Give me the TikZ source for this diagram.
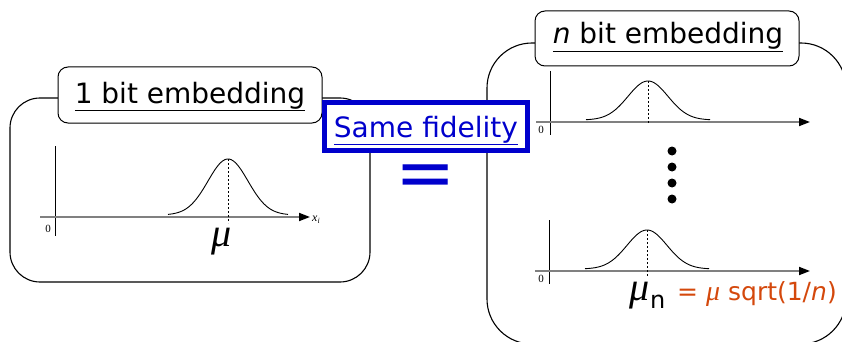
\documentclass[tikz,border=0pt]{standalone}
\usepackage{fontspec}
\setmainfont{DejaVu Sans}
\newfontfamily\timesfont{Liberation Serif}
\usetikzlibrary{arrows.meta}
\definecolor{fidblue}{RGB}{0,0,204}
\definecolor{formred}{RGB}{212,72,12}
\definecolor{axisgray}{RGB}{128,128,128}

\begin{document}
\begin{tikzpicture}[x=1pt,y=-1pt,
  frame/.style={draw=black,line width=1.1pt,rounded corners=#1},
  titlebox/.style={draw=black,fill=white,line width=1pt,rounded corners=10pt},
  title/.style={font=\fontsize{28}{32}\selectfont,anchor=base,inner sep=0pt},
  vaxis/.style={draw=black,line width=0.9pt},
  haxis/.style={draw=axisgray,line width=1.8pt,-{Triangle[length=11pt,width=8pt,color=black]}},
  bell/.style={draw=black,line width=0.9pt},
  peakline/.style={draw=black,dash pattern=on 2pt off 2pt,line width=0.7pt},
  zero/.style={font=\timesfont\fontsize{11}{11}\selectfont,inner sep=0pt},
  greek/.style={font=\timesfont\itshape\fontsize{40}{40}\selectfont,inner sep=0pt},
  bigdot/.style={circle,fill=black,draw=none,inner sep=0pt,minimum size=9pt}
]
\useasboundingbox (0,0) rectangle (842,342);
\clip (0,0) rectangle (842,342);

% outer frames
\draw[frame=30pt] (10,98) rectangle (370,282);
\draw[frame=45pt] (487,43) rectangle (846,344);

% title tabs
\draw[titlebox] (58,67) rectangle (322,123);
\node[title] (t1) at (190,103) {\underline{1 bit embedding}};
\draw[titlebox] (535,11) rectangle (799,66);
\node[title] (tn) at (668,44) {\underline{\textit{n} bit embedding}};

% single-bit distribution
\draw[vaxis] (55,146) -- (55,236);
\draw[haxis] (40,217) -- (310,217);
\draw[bell] plot[domain=-60:60,samples=81,smooth] ({228+\x},{215-56*exp(-(\x*\x)/800)});
\draw[peakline] (228,159) -- (228,223);
\node[zero] (z1) at (48,229) {0};
\node[inner sep=0pt,anchor=base west] (xi) at (312,221)
  {\timesfont\fontsize{12}{12}\selectfont\itshape x\raisebox{-2.5pt}{\fontsize{8}{8}\selectfont i}};
\node[greek,anchor=base] (mu) at (222,246) {μ};

% n-bit distributions
\draw[vaxis] (550,71) -- (550,135);
\draw[haxis] (536,122) -- (810,122);
\draw[bell] plot[domain=-62:62,samples=81,smooth] ({648+\x},{120-39*exp(-(\x*\x)/800)});
\draw[peakline] (648,81) -- (648,124);
\node[zero] (z2) at (541,130) {0};

\foreach \yy/\k in {151/1,167/2,183/3,199/4}
  \node[bigdot] (d\k) at (672,\yy) {};

\draw[vaxis] (549,220) -- (549,284);
\draw[haxis] (535,271) -- (810,271);
\draw[bell] plot[domain=-62:62,samples=81,smooth] ({647+\x},{269-39*exp(-(\x*\x)/800)});
\draw[peakline] (647,230) -- (647,276);
\node[zero] (z3) at (541,279) {0};

\node[greek,anchor=base west] (mun) at (629,300) {μ};
\node[inner sep=0pt,anchor=base west,font=\fontsize{24}{24}\selectfont] (sub) at (650,308) {n};
\node[inner sep=0pt,anchor=base west,text=formred,font=\fontsize{25}{25}\selectfont] (rel) at (677,300)
  {= {\timesfont\itshape\fontsize{28}{28}\selectfont μ} sqrt(1/\textit{n})};

% equivalence label
\draw[draw=fidblue,line width=5pt,fill=white] (324,102.5) rectangle (527.5,150.5);
\node[title,text=fidblue] (fid) at (426,137) {\underline{Same fidelity}};
\node[inner sep=0pt,text=fidblue,font=\fontsize{72}{72}\selectfont] (eq) at (426,181) {=};
\end{tikzpicture}
\end{document}
